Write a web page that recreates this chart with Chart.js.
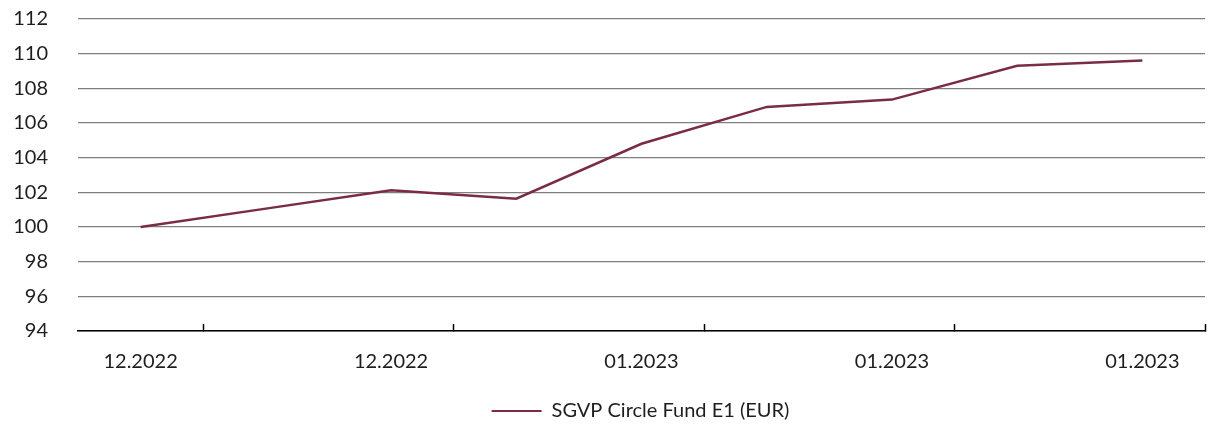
<!DOCTYPE html>
<html>
<head>
<meta charset="utf-8">
<script src="https://cdn.jsdelivr.net/npm/chart.js@4.4.0/dist/chart.umd.min.js"></script>
<style>
  html, body { margin: 0; padding: 0; background: #fff; }
  #wrap { width: 1215px; height: 427px; }
</style>
</head>
<body>
<div id="wrap"><canvas id="myChart" width="1215" height="427"></canvas></div>
<script>
// Data
const categories = ['12.2022', '12.2022', '12.2022', '12.2022', '01.2023', '01.2023', '01.2023', '01.2023', '01.2023'];
const fundValues = [100, 101.06, 102.12, 101.63, 104.8, 106.93, 107.35, 109.3, 109.6];
const yTicks = [94, 96, 98, 100, 102, 104, 106, 108, 110, 112];
const seriesName = 'SGVP Circle Fund E1 (EUR)';

const lineColor = '#7a2b46';
const textColor = '#1e1e1e';
const fontFamily = 'Lato, "Open Sans", sans-serif';

// the legend in the picture is centred under the plot area, not the canvas
const legendShift = {
    id: 'legendShift',
    afterLayout(chart) {
        const lg = chart.legend;
        if (!lg) return;
        const dx = (chart.chartArea.left + chart.chartArea.right) / 2 - (lg.left + lg.right) / 2 - 1;
        lg.left += dx;
        lg.right += dx;
    }
};

window.onload = () => {
    const ctx = document.getElementById('myChart').getContext('2d');

    const myChart = new Chart(ctx, {
        type: 'line',
        data: {
            labels: categories,
            datasets: [{
                label: seriesName,
                data: fundValues,
                borderColor: lineColor,
                backgroundColor: lineColor,
                borderWidth: 2.5,
                pointRadius: 0,
                tension: 0,
                fill: false
            }]
        },
        options: {
            responsive: false,
            animation: false,
            devicePixelRatio: 1,
            layout: {
                padding: { left: 0, right: 10, top: 19, bottom: -4 }
            },
            scales: {
                x: {
                    offset: true,
                    grid: {
                        offset: true,
                        drawOnChartArea: false,
                        drawTicks: true,
                        tickLength: -7,
                        tickWidth: 1.5,
                        // only every second boundary has a tick mark, plus the right end
                        tickColor: c => (c.index === undefined || c.index % 2 === 1) ? '#000' : 'rgba(0,0,0,0)'
                    },
                    border: { display: true, color: '#000', width: 1.5 },
                    ticks: {
                        autoSkip: false,
                        maxRotation: 0,
                        padding: 26,
                        color: textColor,
                        font: { family: fontFamily, size: 20 },
                        callback: function (v, i) {
                            return i % 2 === 0 ? this.getLabelForValue(v) : '';
                        }
                    },
                    afterFit: scale => { scale.height = 68; }
                },
                y: {
                    min: 94,
                    max: 112,
                    afterBuildTicks: scale => {
                        scale.ticks = yTicks.map(v => ({ value: v }));
                    },
                    grid: {
                        color: '#7f7f7f',
                        lineWidth: 1.2,
                        drawTicks: false
                    },
                    border: { display: false },
                    ticks: {
                        padding: 30,
                        color: textColor,
                        font: { family: fontFamily, size: 20 }
                    },
                    afterFit: scale => {
                        scale.width = 78;
                        scale.paddingTop = 0;
                        scale.paddingBottom = 0;
                    }
                }
            },
            plugins: {
                legend: {
                    position: 'bottom',
                    labels: {
                        boxWidth: 50,
                        boxHeight: 2,
                        padding: 2,
                        color: textColor,
                        font: { family: fontFamily, size: 20 },
                        generateLabels: chart => {
                            const items = Chart.defaults.plugins.legend.labels.generateLabels(chart);
                            items.forEach(it => { it.lineWidth = 0; });
                            return items;
                        }
                    }
                },
                tooltip: { enabled: false }
            }
        },
        plugins: [legendShift]
    });
};
</script>
</body>
</html>
